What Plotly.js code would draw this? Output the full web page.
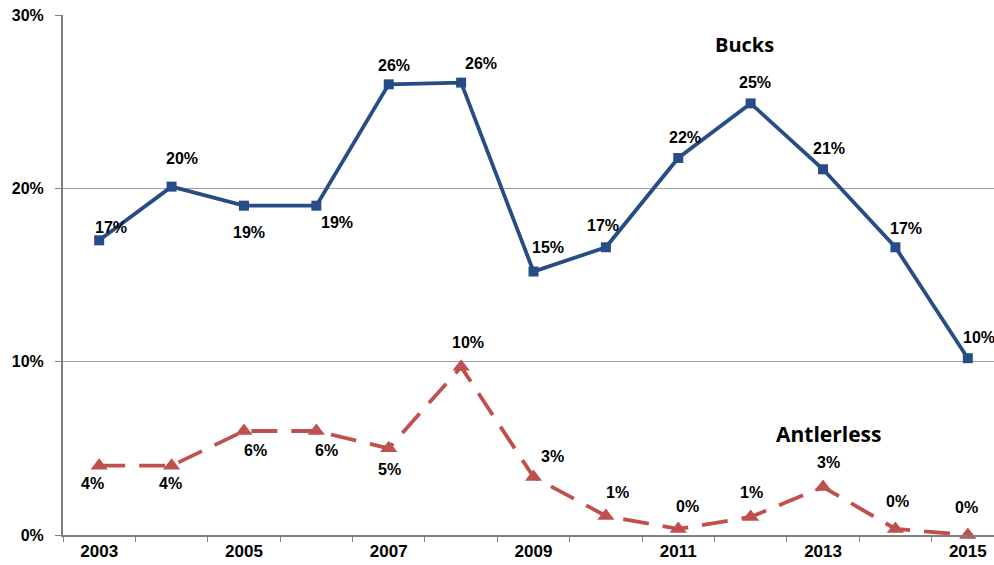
<!DOCTYPE html>
<html><head><meta charset="utf-8">
<script src="https://cdn.plot.ly/plotly-3.0.1.min.js"></script>
<style>html,body{margin:0;padding:0;overflow:hidden;background:#fff}</style>
</head><body><div id="chart"></div>
<script>
const years = [2003,2004,2005,2006,2007,2008,2009,2010,2011,2012,2013,2014,2015];
const bucks = [17.0,20.1,19.0,19.0,26.0,26.1,15.2,16.6,21.75,24.9,21.1,16.6,10.2];
const antlerless = [4.0,4.0,6.0,6.0,5.0,9.7,3.35,1.1,0.35,1.04,2.77,0.35,0.0];
const bucksLabels = ['17%','20%','19%','19%','26%','26%','15%','17%','22%','25%','21%','17%','10%'];
const antlerLabels = ['4%','4%','6%','6%','5%','10%','3%','1%','0%','1%','3%','0%','0%'];
const tickYears = [2003,2005,2007,2009,2011,2013,2015];
const yTicks = [0,10,20,30];
const yTickText = ['0%','10%','20%','30%'];

// label offsets in pixels (dx, dy upward positive)
const bucksDx = [12,10,5,21,5,20,14,-3,7,4,6,11,11];
const bucksDy = [13,28,-27,-17,19,19,24,22,21,21,21,19,21];
const antlerDx = [-7,-1,12,10,1,7,19,12,9,1,5,2,-1];
const antlerDy = [-18,-18,-19,-19,-21,24,20,23,22,24,24,27,28];

const labelFont = {family:'Liberation Sans, Arial, sans-serif', size:16, color:'#000', weight:'bold'};

const traces = [
 {x:years, y:bucks, type:'scatter', mode:'lines+markers',
  line:{color:'#264D85', width:3.8}, marker:{symbol:'square', size:10, color:'#264D85'},
  cliponaxis:false, hoverinfo:'none'},
 {x:years, y:antlerless, type:'scatter', mode:'lines+markers',
  line:{color:'#C0504D', width:3.8, dash:'26px,14px'}, marker:{symbol:'triangle-up', size:15, color:'#C0504D'},
  cliponaxis:false, hoverinfo:'none'}
];

const annotations = [];
years.forEach((yr,i)=>{
  annotations.push({x:yr, y:bucks[i], xref:'x', yref:'y', text:bucksLabels[i], showarrow:false,
    xshift:bucksDx[i], yshift:bucksDy[i], font:labelFont});
  annotations.push({x:yr, y:antlerless[i], xref:'x', yref:'y', text:antlerLabels[i], showarrow:false,
    xshift:antlerDx[i], yshift:antlerDy[i], font:labelFont});
});
annotations.push({x:2012, y:28.3, xref:'x', yref:'y', text:'Bucks', showarrow:false, xshift:-6,
  font:{family:'Open Sans, sans-serif', size:20, color:'#000', weight:'bold'}});
annotations.push({x:2013.1, y:5.8, xref:'x', yref:'y', text:'Antlerless', showarrow:false, xshift:-2,
  font:{family:'Open Sans, sans-serif', size:21, color:'#000', weight:'bold'}});

const layout = {
 width:1010, height:565,
 margin:{l:63, r:6, t:15, b:30},
 showlegend:false,
 paper_bgcolor:'#fff', plot_bgcolor:'#fff',
 xaxis:{range:[2002.5,2015.5], tickvals:tickYears, ticktext:tickYears.map(String), ticks:'',
   showgrid:false, zeroline:false, showline:true, linecolor:'#808080', linewidth:2,
   tickfont:{family:'Liberation Sans, Arial, sans-serif', size:17, color:'#000', weight:'bold'},
   minor:{tick0:2002.5, dtick:1, ticks:'outside', ticklen:5, tickcolor:'#808080', tickwidth:1, showgrid:false}},
 yaxis:{range:[0,30], tickvals:yTicks, ticktext:yTickText, ticks:'outside', ticklen:6, tickcolor:'#808080',
   ticklabelstandoff:8,
   showgrid:true, gridcolor:'#A0A0A0', gridwidth:1, zeroline:false, showline:true, linecolor:'#808080', linewidth:2,
   tickfont:{family:'Liberation Sans, Arial, sans-serif', size:16, color:'#000', weight:'bold'}},
 annotations:annotations
};
Plotly.newPlot('chart', traces, layout, {displayModeBar:false, staticPlot:true});
</script></body></html>
